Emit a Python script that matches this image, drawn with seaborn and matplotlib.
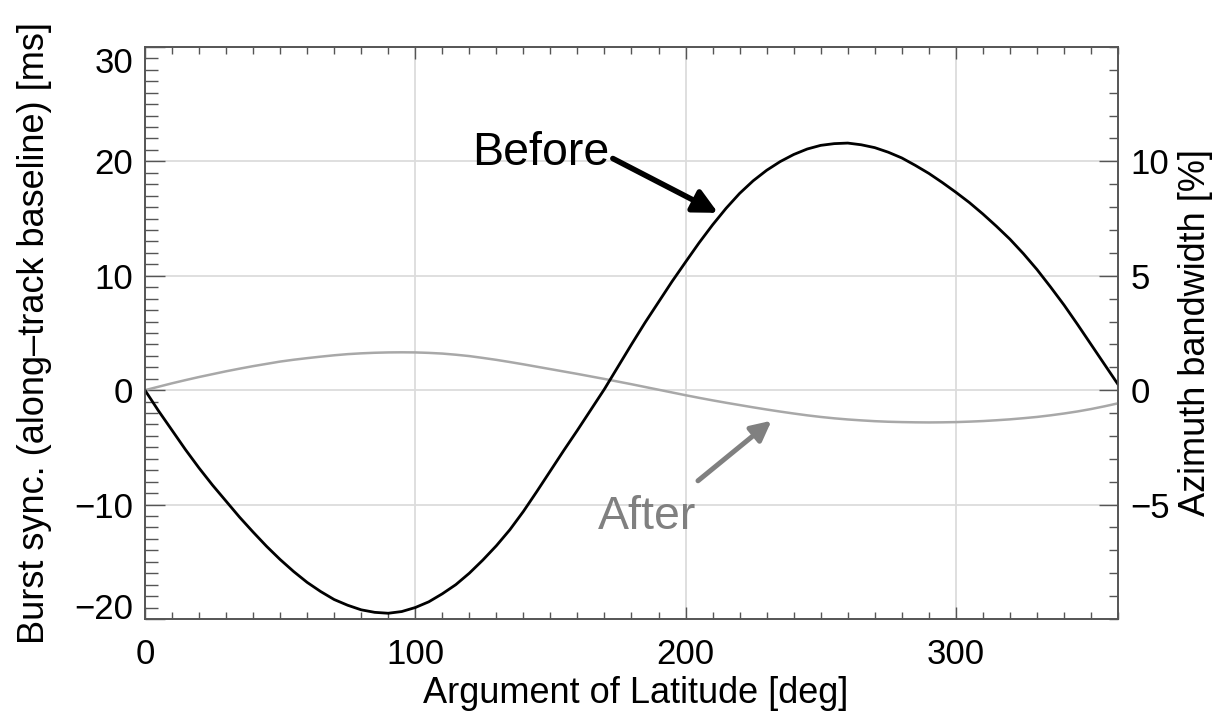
import matplotlib
matplotlib.use("Agg")
import matplotlib.pyplot as plt
import numpy as np
import pandas as pd
import seaborn as sns
from matplotlib.ticker import MultipleLocator, FixedLocator

# ---------------- data ----------------
arg_lat = list(range(0, 361, 5))
before = [0.0, -1.8, -3.5, -5.2, -6.8, -8.3, -9.7, -11.1, -12.4, -13.65,
          -14.8, -15.85, -16.8, -17.6, -18.3, -18.8, -19.2, -19.42, -19.5, -19.35,
          -19.0, -18.5, -17.8, -17.0, -16.0, -14.85, -13.6, -12.2, -10.6, -8.85,
          -7.05, -5.25, -3.5, -1.7, 0.1, 2.05, 4.0, 5.9, 7.7, 9.5,
          11.2, 12.88, 14.45, 15.9, 17.2, 18.3, 19.22, 19.98, 20.6, 21.08,
          21.4, 21.55, 21.6, 21.45, 21.2, 20.8, 20.3, 19.65, 18.95, 18.15,
          17.3, 16.4, 15.4, 14.33, 13.2, 11.93, 10.55, 9.03, 7.45, 5.75,
          4.0, 2.25, 0.5]
after = [0.0, 0.3, 0.6, 0.88, 1.15, 1.4, 1.65, 1.88, 2.1, 2.3,
         2.5, 2.66, 2.8, 2.93, 3.05, 3.15, 3.22, 3.27, 3.3, 3.31,
         3.3, 3.26, 3.2, 3.1, 2.98, 2.82, 2.65, 2.46, 2.26, 2.05,
         1.84, 1.63, 1.42, 1.2, 0.98, 0.75, 0.52, 0.28, 0.04, -0.2,
         -0.44, -0.67, -0.89, -1.1, -1.3, -1.5, -1.69, -1.87, -2.04, -2.2,
         -2.34, -2.46, -2.56, -2.64, -2.71, -2.76, -2.79, -2.81, -2.82, -2.81,
         -2.79, -2.75, -2.7, -2.63, -2.55, -2.45, -2.34, -2.2, -2.04, -1.86,
         -1.65, -1.41, -1.15]

x_ticks = [0, 100, 200, 300]
y_ticks_left = [-20, -10, 0, 10, 20, 30]
y_ticks_right = [-5, 0, 5, 10]

x_label = "Argument of Latitude [deg]"
y_label_left = "Burst sync. (along\u2013track baseline) [ms]"
y_label_right = "Azimuth bandwidth [%]"

# ---------------- style ----------------
sns.set_theme(style="ticks")
plt.rcParams["font.family"] = ["Liberation Sans", "DejaVu Sans"]
plt.rcParams["axes.unicode_minus"] = True

spine_col = "#555555"
fig = plt.figure(figsize=(12.15, 7.15), dpi=100)
ax = fig.add_axes([0.1193, 0.1343, 0.8009, 0.8])

df = pd.DataFrame({"lat": arg_lat, "before": before, "after": after})
sns.lineplot(data=df, x="lat", y="after", ax=ax, color="#a8a8a8", lw=1.8, zorder=3)
sns.lineplot(data=df, x="lat", y="before", ax=ax, color="black", lw=2.0, zorder=4)

ax.set_xlim(0, 360)
ax.set_ylim(-20, 30)
ax.xaxis.set_major_locator(FixedLocator(x_ticks))
ax.xaxis.set_minor_locator(MultipleLocator(10))
ax.yaxis.set_major_locator(FixedLocator(y_ticks_left))
ax.yaxis.set_minor_locator(MultipleLocator(1))

ax.grid(True, which="major", color="#dcdcdc", lw=1.3, zorder=0)

ax.tick_params(axis="x", which="major", direction="in", length=8.5, width=1.0,
               color=spine_col, labelcolor="black", labelsize=25, pad=14,
               top=True, bottom=True)
ax.tick_params(axis="x", which="minor", direction="in", length=5, width=1.0,
               color=spine_col, top=True, bottom=True)
ax.tick_params(axis="y", which="major", direction="in", length=14.5, width=1.0,
               color=spine_col, labelcolor="black", labelsize=25, pad=8.5,
               left=True, right=False)
ax.tick_params(axis="y", which="minor", direction="in", length=9, width=1.0,
               color=spine_col, left=True, right=False)

for s in ax.spines.values():
    s.set_color(spine_col)
    s.set_linewidth(1.2)

ax.set_xlabel(x_label, fontsize=26, color="black")
ax.set_ylabel(y_label_left, fontsize=26, color="black")
ax.xaxis.set_label_coords(0.504, -0.10)
ax.yaxis.set_label_coords(-0.0956, 0.5)

# clamp end labels inside the axis range (like the original)
ax.set_yticks(y_ticks_left)
ticks = ax.yaxis.get_major_ticks()
ticks[0].label1.set_verticalalignment("baseline")
ticks[-1].label1.set_verticalalignment("top")

# right axis (azimuth bandwidth = half of left scale)
ax2 = ax.twinx()
ax2.set_ylim(-10, 15)
ax2.yaxis.set_major_locator(FixedLocator(y_ticks_right))
ax2.yaxis.set_minor_locator(MultipleLocator(1))
ax2.tick_params(axis="y", which="major", direction="in", length=13.5, width=1.0,
                color=spine_col, labelcolor="black", labelsize=25, pad=9)
ax2.tick_params(axis="y", which="minor", direction="in", length=6.5, width=1.0,
                color=spine_col)
ax2.grid(False)
for s in ax2.spines.values():
    s.set_color(spine_col)
    s.set_linewidth(1.2)
ax2.set_ylabel(y_label_right, fontsize=26, color="black")
ax2.yaxis.set_label_coords(1.0617, 0.5)

# annotations
ax.text(121, 19.64, "Before", fontsize=33.5, color="black", ha="left", va="baseline", zorder=6)
ax.annotate("", xy=(212, 15.5), xytext=(173.1, 20.25),
            arrowprops=dict(arrowstyle="-|>", mutation_scale=36, lw=4.0,
                            color="black", shrinkA=0, shrinkB=0), zorder=6)
ax.text(167.6, -12.12, "After", fontsize=33.5, color="#808080", ha="left", va="baseline", zorder=6)
ax.annotate("", xy=(231.8, -2.67), xytext=(204.6, -7.92),
            arrowprops=dict(arrowstyle="-|>", mutation_scale=30, lw=3.6,
                            color="#808080", shrinkA=0, shrinkB=0), zorder=6)

fig.savefig("out.png", dpi=100)
